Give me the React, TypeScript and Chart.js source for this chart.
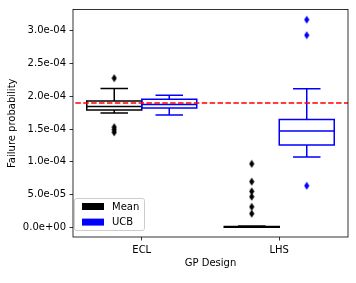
import React, { useEffect, useRef } from 'react';
import { Chart, registerables } from 'chart.js';

Chart.register(...registerables);

// ---------- data ----------
const categories = ['ECL', 'LHS'];
const seriesNames = ['Mean', 'UCB'];
const seriesColors = ['#000000', '#0000ff'];

const meanWhiskerLow = [1.745e-4, 0];
const meanQ1 = [1.79e-4, 0];
const meanMedian = [1.845e-4, 0.2e-6];
const meanQ3 = [1.93e-4, 1.2e-6];
const meanWhiskerHigh = [2.12e-4, 2.0e-6];
const meanOutliersECL = [2.278e-4, 1.53e-4, 1.49e-4, 1.45e-4];
const meanOutliersLHS = [9.69e-5, 6.97e-5, 5.49e-5, 4.67e-5, 3.12e-5, 2.08e-5];

const ucbWhiskerLow = [1.714e-4, 1.073e-4];
const ucbQ1 = [1.821e-4, 1.257e-4];
const ucbMedian = [1.877e-4, 1.469e-4];
const ucbQ3 = [1.957e-4, 1.647e-4];
const ucbWhiskerHigh = [2.018e-4, 2.118e-4];
const ucbOutliersECL: number[] = [];
const ucbOutliersLHS = [3.171e-4, 2.934e-4, 6.34e-5];

const referenceValue = 1.9e-4;

const yTickValues = [0, 5e-5, 1e-4, 1.5e-4, 2e-4, 2.5e-4, 3e-4];
const yTickLabels = ['0.0e+00', '5.0e-05', '1.0e-04', '1.5e-04', '2.0e-04', '2.5e-04', '3.0e-04'];
const yMin = -1.485e-5;
const yMax = 3.327e-4;

const yTitle = 'Failure probability';
const xTitle = 'GP Design';

// ---------- layout constants ----------
const hueOffsets = [-0.2, 0.2];
const boxHalf = 0.2;
const capHalf = 0.1;

const boxStats = [
  { lo: meanWhiskerLow, q1: meanQ1, med: meanMedian, q3: meanQ3, hi: meanWhiskerHigh },
  { lo: ucbWhiskerLow, q1: ucbQ1, med: ucbMedian, q3: ucbQ3, hi: ucbWhiskerHigh },
];
const outliers = [
  [meanOutliersECL, meanOutliersLHS],
  [ucbOutliersECL, ucbOutliersLHS],
];

const FONT = "'DejaVu Sans', sans-serif";

function makeDiamond(color: string) {
  const c = document.createElement('canvas');
  c.width = 6;
  c.height = 9;
  const g = c.getContext('2d')!;
  g.fillStyle = color;
  g.beginPath();
  g.moveTo(3, 0.5);
  g.lineTo(5.6, 4.5);
  g.lineTo(3, 8.5);
  g.lineTo(0.4, 4.5);
  g.closePath();
  g.fill();
  return c;
}

const boxPlugin = {
  id: 'boxes',
  beforeDatasetsDraw(chart: any) {
    const { ctx, scales } = chart;
    const x = scales.x;
    const y = scales.y;
    const area = chart.chartArea;
    ctx.save();
    ctx.beginPath();
    ctx.rect(area.left, area.top, area.right - area.left, area.bottom - area.top);
    ctx.clip();
    ctx.lineWidth = 1.5;
    boxStats.forEach((s, j) => {
      ctx.strokeStyle = seriesColors[j];
      categories.forEach((_, i) => {
        const c = i + hueOffsets[j];
        const xl = x.getPixelForValue(c - boxHalf);
        const xr = x.getPixelForValue(c + boxHalf);
        const xc = x.getPixelForValue(c);
        const cl = x.getPixelForValue(c - capHalf);
        const cr = x.getPixelForValue(c + capHalf);
        const py = (v: number) => y.getPixelForValue(v);
        ctx.beginPath();
        ctx.rect(xl, py(s.q3[i]), xr - xl, py(s.q1[i]) - py(s.q3[i]));
        ctx.moveTo(xl, py(s.med[i]));
        ctx.lineTo(xr, py(s.med[i]));
        ctx.moveTo(xc, py(s.q3[i]));
        ctx.lineTo(xc, py(s.hi[i]));
        ctx.moveTo(cl, py(s.hi[i]));
        ctx.lineTo(cr, py(s.hi[i]));
        ctx.moveTo(xc, py(s.q1[i]));
        ctx.lineTo(xc, py(s.lo[i]));
        ctx.moveTo(cl, py(s.lo[i]));
        ctx.lineTo(cr, py(s.lo[i]));
        ctx.stroke();
      });
    });
    ctx.restore();
  },
  afterDraw(chart: any) {
    const { ctx } = chart;
    const area = chart.chartArea;
    ctx.save();
    // frame
    ctx.strokeStyle = '#000';
    ctx.lineWidth = 0.8;
    ctx.strokeRect(area.left, area.top, area.right - area.left, area.bottom - area.top);
    // legend
    const lx = area.left + 1;
    const lw = 70;
    const lh = 32;
    const ly = area.bottom - 7 - lh;
    ctx.fillStyle = 'rgba(255,255,255,0.8)';
    ctx.strokeStyle = '#cccccc';
    ctx.lineWidth = 1;
    ctx.beginPath();
    (ctx as any).roundRect(lx + 0.5, ly + 0.5, lw, lh, 2);
    ctx.fill();
    ctx.stroke();
    ctx.font = `10px ${FONT}`;
    ctx.textBaseline = 'middle';
    ctx.textAlign = 'left';
    seriesNames.forEach((name, k) => {
      const cy = ly + 8.5 + k * 15.6;
      ctx.fillStyle = seriesColors[k];
      ctx.fillRect(lx + 8, cy - 3.5, 22, 7);
      ctx.fillStyle = '#000';
      ctx.fillText(name, lx + 38, cy + 0.5);
    });
    ctx.restore();
  },
};

export default function App() {
  const ref = useRef<HTMLCanvasElement>(null);
  useEffect(() => {
    document.body.style.margin = '0';
    const diamonds = seriesColors.map(makeDiamond);
    const datasets: any[] = [];
    seriesNames.forEach((name, j) => {
      const pts: { x: number; y: number }[] = [];
      categories.forEach((_, i) => {
        outliers[j][i].forEach((v) => pts.push({ x: i + hueOffsets[j], y: v }));
      });
      datasets.push({
        type: 'scatter',
        label: name,
        data: pts,
        pointStyle: diamonds[j],
        pointRadius: 3,
        backgroundColor: seriesColors[j],
        borderColor: seriesColors[j],
      });
    });
    datasets.push({
      type: 'line',
      label: 'reference',
      data: [
        { x: -1, y: referenceValue },
        { x: 2, y: referenceValue },
      ],
      borderColor: '#ff0000',
      borderWidth: 1.5,
      borderDash: [5.5, 2.4],
      pointRadius: 0,
      fill: false,
      clip: 0,
    });

    const chart = new Chart(ref.current!, {
      type: 'scatter',
      data: { datasets },
      plugins: [boxPlugin],
      options: {
        animation: false,
        responsive: false,
        devicePixelRatio: 1,
        layout: { padding: { top: 3, right: 8, bottom: 0, left: 0 } },
        plugins: { legend: { display: false }, tooltip: { enabled: false } },
        scales: {
          x: {
            type: 'linear',
            min: -0.5,
            max: 1.5,
            afterBuildTicks: (s: any) => {
              s.ticks = categories.map((_, i) => ({ value: i }));
            },
            afterFit: (s: any) => {
              s.height = 46;
            },
            grid: { drawOnChartArea: false, tickLength: 3.5, tickColor: '#000', tickWidth: 0.8 },
            border: { display: false },
            ticks: {
              autoSkip: false,
              maxRotation: 0,
              padding: 3.5,
              color: '#000',
              font: { family: FONT, size: 10 },
              callback: (_v: any, idx: number) => categories[idx],
            },
            title: {
              display: true,
              text: xTitle,
              color: '#000',
              font: { family: FONT, size: 10 },
              padding: { top: 0, bottom: 14 },
            },
          },
          y: {
            type: 'linear',
            min: yMin,
            max: yMax,
            afterBuildTicks: (s: any) => {
              s.ticks = yTickValues.map((v) => ({ value: v }));
            },
            afterFit: (s: any) => {
              s.width = 73;
            },
            grid: { drawOnChartArea: false, tickLength: 3.5, tickColor: '#000', tickWidth: 0.8 },
            border: { display: false },
            ticks: {
              autoSkip: false,
              padding: 3.5,
              color: '#000',
              font: { family: FONT, size: 10 },
              callback: (_v: any, idx: number) => yTickLabels[idx],
            },
            title: {
              display: true,
              text: yTitle,
              color: '#000',
              font: { family: FONT, size: 10 },
              padding: { top: 6, bottom: 0 },
            },
          },
        },
      } as any,
    });
    return () => chart.destroy();
  }, []);
  return <canvas ref={ref} width={356} height={283} style={{ display: 'block' }} />;
}
